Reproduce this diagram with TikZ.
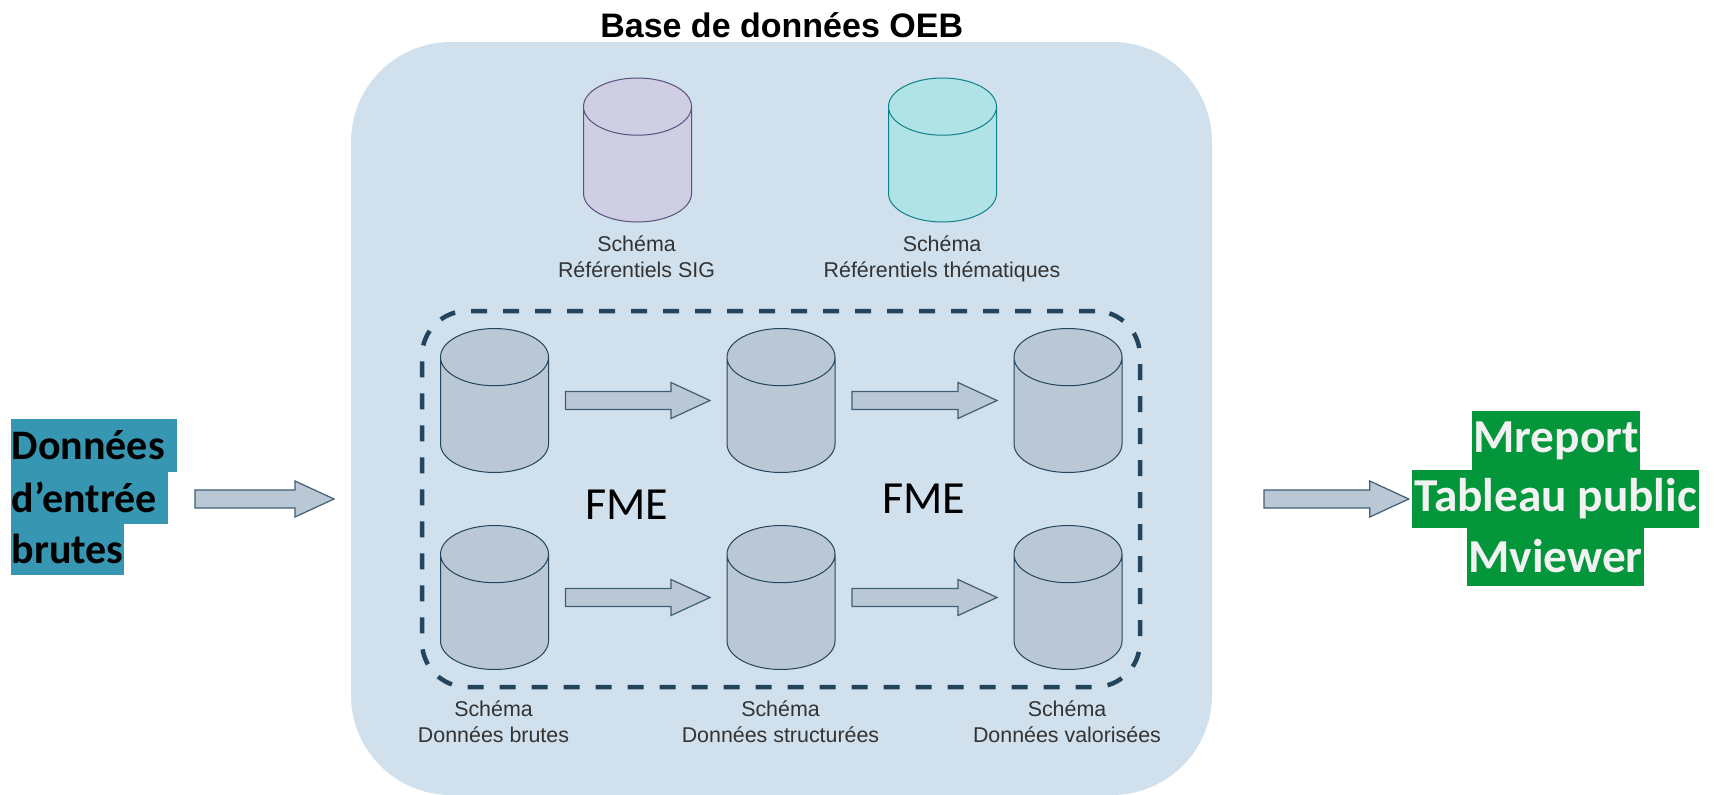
\documentclass[tikz,border=0pt]{standalone}
\usepackage{fontspec}
\setmainfont{Liberation Sans}
\newfontfamily\carlitofont{Carlito}
\usetikzlibrary{shapes.geometric,calc}
\definecolor{panelblue}{HTML}{D0E0ED}
\definecolor{dbgrey}{HTML}{B9C8D4}
\definecolor{dbline}{HTML}{23445D}
\definecolor{sigfill}{HTML}{D0CEE2}
\definecolor{sigline}{HTML}{56517E}
\definecolor{themfill}{HTML}{B0E3E6}
\definecolor{themline}{HTML}{0E8088}
\definecolor{inblue}{HTML}{3797B3}
\definecolor{outgreen}{HTML}{03963A}
\begin{document}
\begin{tikzpicture}[x=1pt,y=1pt,
db/.style={cylinder,anchor=shape center,shape border rotate=90,aspect=1.06,inner xsep=27pt,inner ysep=27pt,minimum width=108,minimum height=144,draw=dbline,fill=dbgrey,line width=1pt,outer sep=0pt},
schema/.style={anchor=north,align=center,text=black!80,font=\fontsize{21.4}{25.5}\selectfont},
fmelabel/.style={font=\carlitofont\fontsize{46}{50}\selectfont},
inline/.style={anchor=west,fill=inblue,align=left,font=\carlitofont\bfseries\fontsize{42}{50}\selectfont,minimum height=53},
outline/.style={fill=outgreen,text=black!5,align=center,font=\carlitofont\bfseries\fontsize{47.3}{50}\selectfont,minimum height=58.5},
blockarrow/.style={draw=dbline!80!dbgrey,fill=dbgrey,line width=1.2pt,to path={let \p1=(\tikztostart),\p2=(\tikztotarget) in (\x1,\y1-9pt) -- (\x2-39pt,\y2-9pt) -- (\x2-39pt,\y2-18pt) -- (\x2,\y2) -- (\x2-39pt,\y2+18pt) -- (\x2-39pt,\y2+9pt) -- (\x1,\y1+9pt) -- cycle}}]
\useasboundingbox (0,0) rectangle (1716,-795);
\tikzstyle{every node}+=[inner sep=0pt]
\node (panel) [fill=panelblue,rounded corners=100,minimum width=861,minimum height=753] at (781.5,-418.5) {};
\node (title) [font=\bfseries\fontsize{34}{36}\selectfont] at (781.7,-25) {Base de données OEB};
\node (dbSig) [db,draw=sigline,fill=sigfill] at (637.5,-150) {};
\node (dbThem) [db,draw=themline,fill=themfill] at (942.5,-150) {};
\node (lblSig) [schema] at (636.5,-236) {Schéma\\Référentiels SIG};
\node (lblThem) [schema] at (942,-236) {Schéma\\Référentiels thématiques};
\node (zone) [draw=dbline,line width=4.5pt,dash pattern=on 16pt off 16pt,rounded corners=45,minimum width=718,minimum height=376] at (781,-499) {};
\node (dbA) [db] at (494.5,-400.5) {};
\node (dbB) [db] at (781,-400.5) {};
\node (dbC) [db] at (1068,-400.5) {};
\node (dbD) [db] at (494.5,-597.5) {};
\node (dbE) [db] at (781,-597.5) {};
\node (dbF) [db] at (1068,-597.5) {};
\draw [blockarrow] ($(dbA.shape center)+(71,0)$) to ($(dbB.shape center)-(71,0)$);
\draw [blockarrow] ($(dbB.shape center)+(71,0)$) to ($(dbC.shape center)-(71,0)$);
\draw [blockarrow] ($(dbD.shape center)+(71,0)$) to ($(dbE.shape center)-(71,0)$);
\draw [blockarrow] ($(dbE.shape center)+(71,0)$) to ($(dbF.shape center)-(71,0)$);
\node (fmeA) [fmelabel] at (626.7,-505) {FME};
\node (fmeB) [fmelabel] at (924,-499) {FME};
\node (lblA) [schema] at (493.5,-701) {Schéma\\Données brutes};
\node (lblB) [schema] at (780.5,-701) {Schéma\\Données structurées};
\node (lblC) [schema] at (1067,-701) {Schéma\\Données valorisées};
\node (inA) [inline,minimum width=166,text width=165] at (11,-445.5) {Données};
\node (inB) [inline,minimum width=157,text width=156] at (11,-497.5) {d’entrée};
\node (inC) [inline,minimum width=113,text width=112] at (11,-548.5) {brutes};
\node (outA) [outline,minimum width=168] at (1556,-440.5) {Mreport};
\node (outB) [outline,minimum width=287] at (1555.5,-499) {Tableau public};
\node (outC) [outline,minimum width=177] at (1555.5,-556.5) {Mviewer};
\coordinate (startIn) at (195,-499);
\coordinate (endIn) at (334,-499);
\coordinate (startOut) at (1264,-499);
\draw [blockarrow] (startIn) to (endIn);
\draw [blockarrow] (startOut) to ($(outB.west)-(3,0)$);
\end{tikzpicture}
\end{document}
